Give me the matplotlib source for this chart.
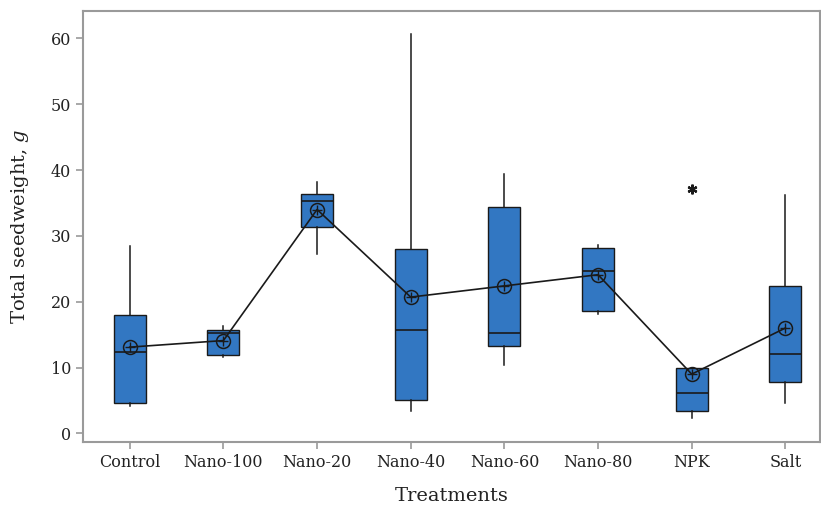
import numpy as np
import matplotlib.pyplot as plt

plt.rcParams['font.family'] = ['DejaVu Serif']
plt.rcParams['mathtext.fontset'] = 'dejavuserif'

# Datos
tratamientos = ['Control', 'Nano-100', 'Nano-20', 'Nano-40', 'Nano-60', 'Nano-80', 'NPK', 'Salt']
q1 = [4.6, 11.9, 31.4, 5.1, 13.3, 18.6, 3.4, 7.8]
mediana = [12.4, 15.3, 35.3, 15.7, 15.2, 24.7, 6.2, 12.0]
q3 = [18.0, 15.7, 36.3, 28.0, 34.4, 28.1, 9.9, 22.4]
bigote_inf = [4.1, 11.6, 27.2, 3.4, 10.4, 18.1, 2.3, 4.6]
bigote_sup = [28.5, 16.3, 38.2, 60.7, 39.4, 28.6, 10.0, 36.2]
media = [13.1, 14.1, 34.0, 20.7, 22.4, 24.1, 9.0, 16.0]
atipicos = [[], [], [], [], [], [], [37.1], []]

stats = []
for i in range(len(tratamientos)):
    stats.append({'label': tratamientos[i], 'q1': q1[i], 'med': mediana[i], 'q3': q3[i],
                  'whislo': bigote_inf[i], 'whishi': bigote_sup[i],
                  'fliers': atipicos[i]})

x = np.arange(len(tratamientos))

fig = plt.figure(figsize=(8.21, 5.09), dpi=100)
ax = fig.add_axes([0.101, 0.132, 0.8978, 0.847])

ax.bxp(stats, positions=x, widths=0.34, patch_artist=True, showcaps=False,
       boxprops=dict(facecolor='#3277C2', edgecolor='#1a1a1a', linewidth=1.0),
       medianprops=dict(color='#1a1a1a', linewidth=1.2),
       whiskerprops=dict(color='#1a1a1a', linewidth=1.1),
       flierprops=dict(marker=(6, 2, 0), markersize=7, markeredgecolor='#1a1a1a',
                       markeredgewidth=1.6))

ax.plot(x, media, color='#1a1a1a', linewidth=1.2, zorder=4)
ax.plot(x, media, 'o', markersize=10, markerfacecolor='none', markeredgecolor='#1a1a1a',
        markeredgewidth=1.1, zorder=5)
ax.plot(x, media, '+', markersize=7, markeredgecolor='#1a1a1a', markeredgewidth=1.0, zorder=5)

ax.set_xlim(-0.5, 7.37)
ax.set_ylim(-1.28, 64.2)
ax.set_xticks(x)
ax.set_xticklabels(tratamientos)
ax.set_yticks(np.arange(0, 61, 10))

for s in ax.spines.values():
    s.set_color('#9a9a9a')
    s.set_linewidth(1.5)
ax.tick_params(colors='#9a9a9a', labelcolor='#222222', length=5, width=1.2, labelsize=11.5)

ax.set_xlabel('Treatments', fontsize=14, color='#222222', labelpad=12)
ax.set_ylabel('Total seedweight, $g$', fontsize=14, color='#222222', labelpad=14)

fig.savefig('out.png', dpi=100)
